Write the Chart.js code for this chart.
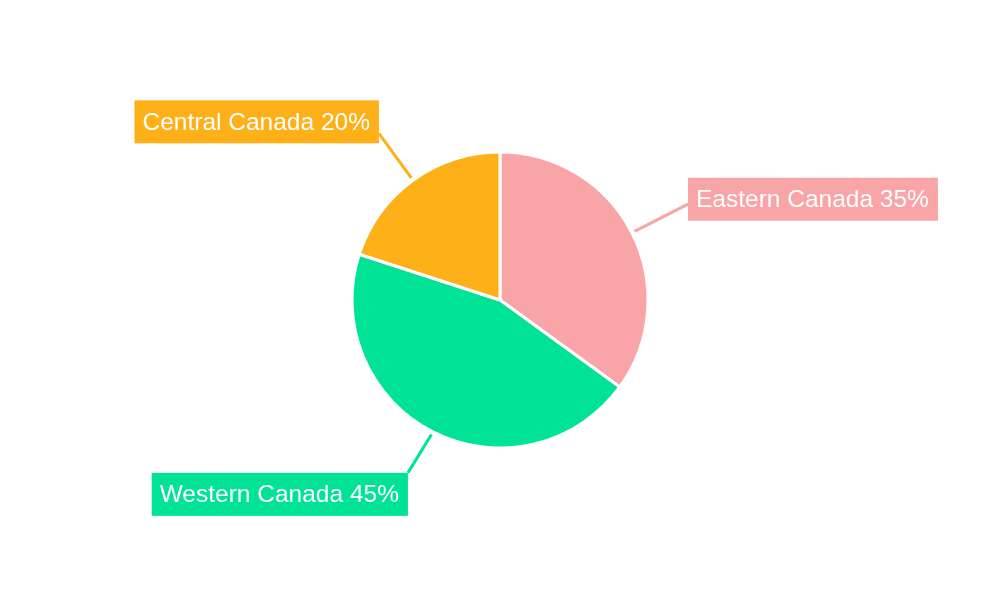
<!DOCTYPE html>
<html>
<head>
<meta charset="utf-8">
<script src="https://cdn.jsdelivr.net/npm/chart.js@4"></script>
<style>
  body { margin: 0; background: #fff; }
  #wrap { width: 1000px; height: 600px; }
</style>
</head>
<body>
<div id="wrap"><canvas id="myChart"></canvas></div>
<script>
// dados do gráfico
const regions = ["Eastern Canada", "Western Canada", "Central Canada"];
const shares = [35, 45, 20];
const colors = ["#F9A4A6", "#00E396", "#FEB019"];

// rótulos com caixa e linha guia
const boxLabels = {
  id: 'boxLabels',
  afterDatasetsDraw(chart, args, opts) {
    const ctx = chart.ctx;
    const meta = chart.getDatasetMeta(0);
    ctx.save();
    ctx.font = opts.font;
    ctx.textBaseline = 'middle';
    meta.data.forEach((arc, i) => {
      const mid = (arc.startAngle + arc.endAngle) / 2;
      const cos = Math.cos(mid), sin = Math.sin(mid);
      const r0 = arc.outerRadius + 3;
      const r1 = arc.outerRadius + opts.ext[i];
      const x0 = arc.x + cos * r0, y0 = arc.y + sin * r0;
      const x1 = arc.x + cos * r1 + opts.dx[i], y1 = arc.y + sin * r1;
      const c = colors[i];
      ctx.strokeStyle = c;
      ctx.lineWidth = 3;
      ctx.beginPath();
      ctx.moveTo(x0, y0);
      ctx.lineTo(x1, y1);
      ctx.stroke();

      const text = regions[i] + ' ' + shares[i] + '%';
      const w = ctx.measureText(text).width + 17;
      const h = 43;
      const bx = cos >= 0 ? x1 : x1 - w;
      const by = y1 + opts.dy[i] - h / 2;
      ctx.fillStyle = c;
      ctx.fillRect(bx, by, w, h);
      ctx.fillStyle = '#fff';
      ctx.textAlign = 'left';
      ctx.fillText(text, bx + 8, by + h / 2 + 1);
    });
    ctx.restore();
  }
};

const config = {
  type: 'pie',
  data: {
    labels: regions,
    datasets: [{
      data: shares,
      backgroundColor: colors,
      borderColor: '#fff',
      borderWidth: 3
    }]
  },
  options: {
    responsive: true,
    maintainAspectRatio: false,
    animation: false,
    radius: 148,
    plugins: {
      legend: { display: false },
      tooltip: { enabled: false },
      boxLabels: {
        font: '24.5px "Liberation Sans", Arial, sans-serif',
        ext: [63, 46, 58],
        dx: [0, -4, 0],
        dy: [-5, 21.5, -11.5]
      }
    }
  },
  plugins: [boxLabels]
};

const ctx = document.getElementById('myChart');
const myChart = new Chart(ctx, config);
</script>
</body>
</html>
